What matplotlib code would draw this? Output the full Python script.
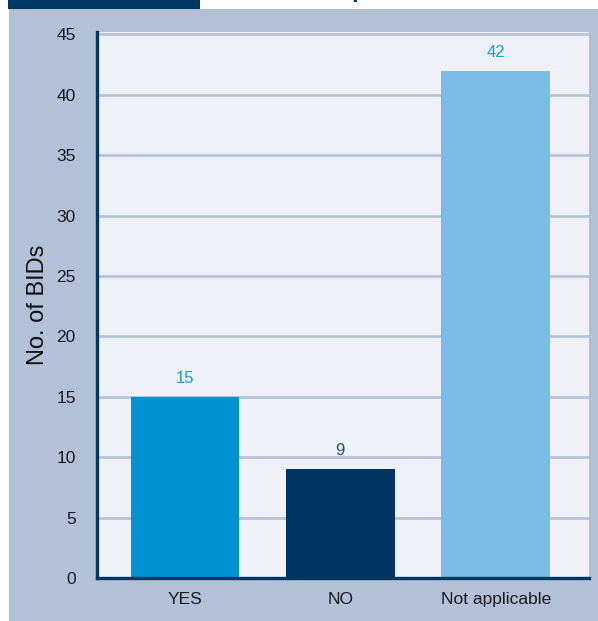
import matplotlib
matplotlib.use("Agg")
import matplotlib.pyplot as plt
from matplotlib.patches import Rectangle

categories = ["YES", "NO", "Not applicable"]
counts = [15, 9, 42]
bar_colors = ["#0091d5", "#003462", "#79bde7"]
label_colors = ["#1b98d8", "#23507c", "#1b98d8"]
y_ticks = [0, 5, 10, 15, 20, 25, 30, 35, 40, 45]
y_label = "No. of BIDs"
title_text = "Prospect of renewal of BIDs"

plt.rcParams["font.family"] = ["Liberation Sans", "DejaVu Sans"]

W, H = 598, 621
fig = plt.figure(figsize=(W / 100, H / 100), dpi=100)
fig.patch.set_facecolor("white")

# Background panel and header strip
fig.add_artist(Rectangle((9 / W, 0), 1 - 9 / W, 1 - 9 / H, transform=fig.transFigure,
                         facecolor="#b2c1d7", edgecolor="none", zorder=0))
fig.add_artist(Rectangle((8 / W, 1 - 9 / H), 192 / W, 9 / H, transform=fig.transFigure,
                         facecolor="#003763", edgecolor="none", zorder=0))
# Header title sits above the panel; only its lowest strokes fall inside the page
fig.text(598 / W, 1 + 2.5 / H, title_text, ha="right", va="baseline", fontsize=16,
         fontweight="bold", color="#003763", zorder=1)

ax = fig.add_axes([96.5 / W, 43 / H, (589 - 96.5) / W, (578 - 32) / H])
ax.set_facecolor("#eef1f7")

x = list(range(len(categories)))
ax.bar(x, counts, width=0.70, color=bar_colors, zorder=3)
for xi, v, c in zip(x, counts, label_colors):
    ax.annotate(str(v), (xi, v), xytext=(0, 8), textcoords="offset points",
                ha="center", va="bottom", fontsize=12, color=c, zorder=4)

ax.set_xlim(-0.57, 2.60)
ax.set_ylim(0, 45.2)
ax.set_yticks(y_ticks)
ax.set_xticks(x)
ax.set_xticklabels(categories)
ax.yaxis.grid(True, color="#b7c4d8", linewidth=2.0, zorder=1)
ax.set_axisbelow(True)

for side in ["top", "right"]:
    ax.spines[side].set_visible(False)
for side in ["left", "bottom"]:
    ax.spines[side].set_color("#003763")
    ax.spines[side].set_linewidth(2.4)
    ax.spines[side].set_zorder(5)

ax.tick_params(axis="y", length=0, pad=15, labelsize=12.5, labelcolor="#1a1a1a")
ax.tick_params(axis="x", length=0, pad=10, labelsize=12.5, labelcolor="#1a1a1a")
ax.set_ylabel(y_label, fontsize=17, color="#111111", labelpad=5)

fig.savefig("out.png", dpi=100, facecolor=fig.get_facecolor())
